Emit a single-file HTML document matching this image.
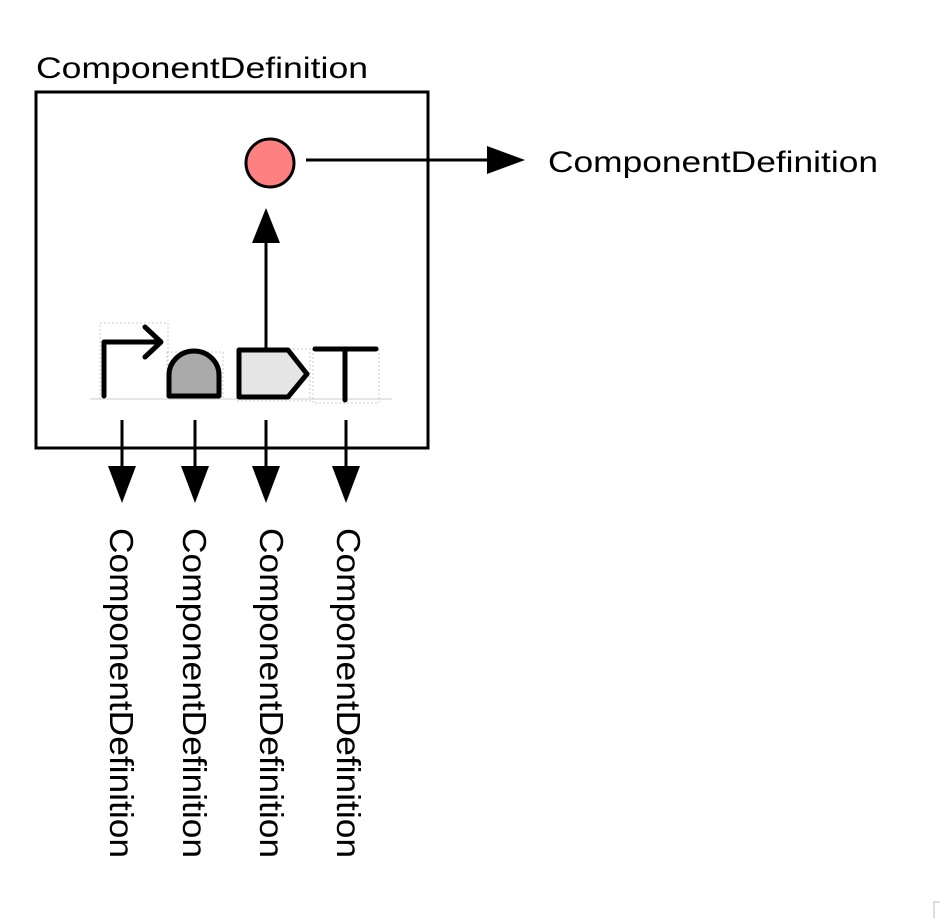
<!DOCTYPE html>
<html><head><meta charset="utf-8"><style>
html,body{margin:0;padding:0;background:#fff;}
svg{display:block;font-family:"Liberation Sans",Arial,sans-serif;}
</style></head><body>
<svg width="940" height="918" viewBox="0 0 940 918" xmlns="http://www.w3.org/2000/svg">
<text x="36" y="78" font-size="30" textLength="332" lengthAdjust="spacingAndGlyphs">ComponentDefinition</text>
<rect x="36" y="92" width="392" height="356" fill="none" stroke="#000" stroke-width="3"/>
<!-- circle and right arrow -->
<circle cx="270" cy="163" r="24" fill="#ff8080" stroke="#000" stroke-width="3"/>
<line x1="306" y1="160" x2="492" y2="160" stroke="#000" stroke-width="3"/>
<polygon points="487,146 525,160 487,174" fill="#000"/>
<text x="548" y="172" font-size="30" textLength="330" lengthAdjust="spacingAndGlyphs">ComponentDefinition</text>
<!-- up arrow -->
<line x1="266" y1="350" x2="266" y2="240" stroke="#000" stroke-width="3"/>
<polygon points="252,243 266,208 280,243" fill="#000"/>
<!-- baseline and dashed glyph boxes -->
<line x1="90" y1="399" x2="392" y2="399" stroke="#ccc" stroke-width="1"/>
<rect x="100" y="323" width="68" height="76" fill="none" stroke="#ccc" stroke-dasharray="2,2"/>
<rect x="167" y="352" width="56" height="47" fill="none" stroke="#ccc" stroke-dasharray="2,2"/>
<rect x="237" y="349" width="73" height="52" fill="none" stroke="#ccc" stroke-dasharray="2,2"/>
<rect x="313" y="347" width="66" height="56" fill="none" stroke="#ccc" stroke-dasharray="2,2"/>
<!-- promoter -->
<path d="M104,396 L104,342 L160,342 M145,327 L161,342 L145,357" fill="none" stroke="#000" stroke-width="5" stroke-linecap="round" stroke-linejoin="round"/>
<!-- RBS -->
<path d="M169,396 L169,375 A25,24 0 0 1 219,375 L219,396 Z" fill="#aaa" stroke="#000" stroke-width="5" stroke-linejoin="round"/>
<!-- CDS -->
<polygon points="239,350 288,350 307,374 288,397 239,397" fill="#e5e5e5" stroke="#000" stroke-width="5" stroke-linejoin="round"/>
<!-- terminator -->
<path d="M315,349 L376,349 M345,349 L345,400" fill="none" stroke="#000" stroke-width="5" stroke-linecap="round"/>
<!-- down arrows -->
<g stroke="#000" stroke-width="3">
<line x1="122" y1="420" x2="122" y2="470"/>
<line x1="195" y1="420" x2="195" y2="470"/>
<line x1="266" y1="420" x2="266" y2="470"/>
<line x1="346" y1="420" x2="346" y2="470"/>
</g>
<g fill="#000">
<polygon points="108,466 136,466 122,503"/>
<polygon points="181,466 209,466 195,503"/>
<polygon points="252,466 280,466 266,503"/>
<polygon points="332,466 360,466 346,503"/>
</g>
<g font-size="33">
<text transform="translate(110,528) rotate(90)" textLength="330" lengthAdjust="spacingAndGlyphs">ComponentDefinition</text>
<text transform="translate(183,528) rotate(90)" textLength="330" lengthAdjust="spacingAndGlyphs">ComponentDefinition</text>
<text transform="translate(260,528) rotate(90)" textLength="330" lengthAdjust="spacingAndGlyphs">ComponentDefinition</text>
<text transform="translate(337,528) rotate(90)" textLength="330" lengthAdjust="spacingAndGlyphs">ComponentDefinition</text>
</g>
<rect x="934" y="902" width="8" height="20" fill="#fff" stroke="#bbb" stroke-width="1"/>
</svg>
</body></html>
